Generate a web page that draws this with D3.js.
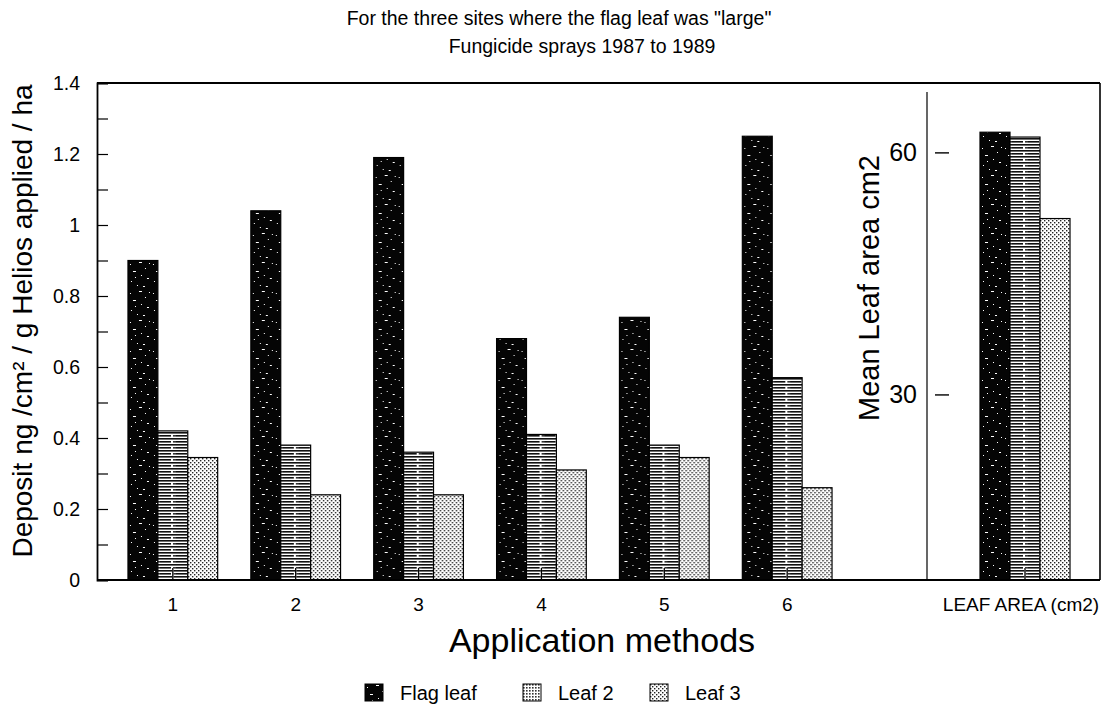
<!DOCTYPE html>
<html>
<head>
<meta charset="utf-8">
<script src="https://cdn.jsdelivr.net/npm/d3@7"></script>
<style>
  html, body { margin: 0; padding: 0; background: #fff; }
  svg { display: block; }
  text { font-family: "Liberation Sans", Arial, Helvetica, sans-serif; fill: #000; }
</style>
</head>
<body>
<svg id="chart" width="1108" height="710"></svg>
<script>
// Deposit per application method (ng/cm² per g Helios applied per ha)
const methods = ["1", "2", "3", "4", "5", "6"];
const seriesNames = ["Flag leaf", "Leaf 2", "Leaf 3"];
const flagLeaf = [0.90, 1.04, 1.19, 0.68, 0.74, 1.25];
const leaf2    = [0.42, 0.38, 0.36, 0.41, 0.38, 0.57];
const leaf3    = [0.345, 0.24, 0.24, 0.31, 0.345, 0.26];

// Mean leaf area (cm2) of each leaf
const leafAreaLabel = "LEAF AREA (cm2)";
const leafArea = [62.5, 61.9, 51.8];

const depositTicks = [0, 0.2, 0.4, 0.6, 0.8, 1, 1.2, 1.4];
const depositMinorTicks = [0.1, 0.3, 0.5, 0.7, 0.9, 1.1, 1.3];
const areaTicks = [30, 60];

const titleLines = ["For the three sites where the flag leaf was \"large\"", "Fungicide sprays 1987 to 1989"];

const svg = d3.select("#chart");

// ---- fill patterns ----
const defs = svg.append("defs");

// Flag leaf: black with sparse white speckle
const pFlag = defs.append("pattern").attr("id", "pat-flag")
  .attr("patternUnits", "userSpaceOnUse").attr("width", 23).attr("height", 29);
pFlag.append("rect").attr("width", 23).attr("height", 29).attr("fill", "#050505");
[[2,3,1,1],[11,1,3,1],[17,7,1,1],[5,10,3,1],[13,14,1,1],[19,17,2,1],[3,20,1,1],[9,24,1,1],[15,25,2,1],[7,16,1,1],[21,2,1,1]]
  .forEach(([x, y, w, h]) => pFlag.append("rect").attr("x", x).attr("y", y).attr("width", w).attr("height", h).attr("fill", "#fff"));

// Leaf 2: dense horizontal striping
const pL2 = defs.append("pattern").attr("id", "pat-leaf2")
  .attr("patternUnits", "userSpaceOnUse").attr("width", 16).attr("height", 6);
pL2.append("rect").attr("width", 16).attr("height", 6).attr("fill", "#fff");
pL2.append("rect").attr("x", 0).attr("y", 0).attr("width", 16).attr("height", 1.6).attr("fill", "#111");
pL2.append("rect").attr("x", 0).attr("y", 3).attr("width", 11).attr("height", 1.6).attr("fill", "#111");
pL2.append("rect").attr("x", 13).attr("y", 3).attr("width", 3).attr("height", 1.6).attr("fill", "#333");

// Leaf 3: fine dot screen
const pL3 = defs.append("pattern").attr("id", "pat-leaf3")
  .attr("patternUnits", "userSpaceOnUse").attr("width", 4).attr("height", 4);
pL3.append("rect").attr("width", 4).attr("height", 4).attr("fill", "#fff");
pL3.append("rect").attr("x", 0).attr("y", 0).attr("width", 1.4).attr("height", 1.4).attr("fill", "#222");
pL3.append("rect").attr("x", 2).attr("y", 2).attr("width", 1.4).attr("height", 1.4).attr("fill", "#222");

// Legend swatch for leaf 2: grey dot screen
const pL2s = defs.append("pattern").attr("id", "pat-leaf2-swatch")
  .attr("patternUnits", "userSpaceOnUse").attr("width", 3).attr("height", 3);
pL2s.append("rect").attr("width", 3).attr("height", 3).attr("fill", "#fff");
pL2s.append("rect").attr("width", 1.6).attr("height", 1.6).attr("fill", "#333");

const fills = ["url(#pat-flag)", "url(#pat-leaf2)", "url(#pat-leaf3)"];
const swatchFills = ["url(#pat-flag)", "url(#pat-leaf2-swatch)", "url(#pat-leaf3)"];

// ---- layout ----
const plotLeft = 97, plotTop = 83, plotBottom = 580, divider = 927, plotRight = 1100;

const x0 = d3.scaleBand().domain(methods).range([112, 848]).paddingInner(0.27).paddingOuter(0.13);
const x1 = d3.scaleBand().domain(seriesNames).range([0, x0.bandwidth()]);
const y = d3.scaleLinear().domain([0, 1.4]).range([plotBottom, plotTop]);

const xArea = d3.scaleBand().domain([leafAreaLabel]).range([980, 1070]);
const x1Area = d3.scaleBand().domain(seriesNames).range([0, xArea.bandwidth()]);
const yArea = d3.scaleLinear().domain([7, 68.6]).range([plotBottom, plotTop]);

// ---- titles ----
const titleCx = [559, 582];
svg.append("g").selectAll("text").data(titleLines).join("text")
  .attr("x", (d, i) => titleCx[i]).attr("y", (d, i) => 25 + i * 28)
  .attr("text-anchor", "middle").attr("font-size", 19.5).text(d => d);

// ---- bars: deposit ----
const seriesVals = [flagLeaf, leaf2, leaf3];
const rows = methods.map((m, i) => ({ m, vals: seriesNames.map((s, k) => ({ s, k, v: seriesVals[k][i] })) }));

svg.append("g").selectAll("g").data(rows).join("g")
  .attr("transform", d => `translate(${x0(d.m)},0)`)
  .selectAll("rect").data(d => d.vals).join("rect")
  .attr("x", d => x1(d.s)).attr("width", x1.bandwidth())
  .attr("y", d => y(d.v)).attr("height", d => plotBottom - y(d.v))
  .attr("fill", d => fills[d.k]).attr("stroke", "#000").attr("stroke-width", 1.2);

// ---- bars: leaf area ----
svg.append("g").attr("transform", `translate(${xArea(leafAreaLabel)},0)`)
  .selectAll("rect").data(seriesNames.map((s, k) => ({ s, k, v: leafArea[k] }))).join("rect")
  .attr("x", d => x1Area(d.s)).attr("width", x1Area.bandwidth())
  .attr("y", d => yArea(d.v)).attr("height", d => plotBottom - yArea(d.v))
  .attr("fill", d => fills[d.k]).attr("stroke", "#000").attr("stroke-width", 1.2);

// ---- frame ----
const frame = svg.append("g").attr("stroke", "#000").attr("fill", "none");
frame.append("line").attr("x1", plotLeft).attr("x2", plotRight).attr("y1", plotTop).attr("y2", plotTop).attr("stroke-width", 1.8);
frame.append("line").attr("x1", plotRight).attr("x2", plotRight).attr("y1", plotTop).attr("y2", plotBottom).attr("stroke-width", 1.6);
frame.append("line").attr("x1", divider).attr("x2", divider).attr("y1", 92).attr("y2", plotBottom).attr("stroke-width", 1.2);

// ---- left axis (inward ticks) ----
const yAxis = d3.axisRight(y).tickValues(depositTicks).tickSize(11).tickFormat("");
const gy = svg.append("g").attr("transform", `translate(${plotLeft},0)`).call(yAxis);
gy.select(".domain").attr("stroke-width", 1.8);
gy.selectAll(".tick line").attr("stroke-width", 1.2);
svg.append("g").attr("transform", `translate(${plotLeft},0)`)
  .call(d3.axisRight(y).tickValues(depositMinorTicks).tickSize(11).tickFormat(""))
  .call(g => g.select(".domain").remove())
  .selectAll(".tick line").attr("stroke-width", 1.2);

svg.append("g").selectAll("text").data(depositTicks).join("text")
  .attr("x", 80).attr("y", d => y(d)).attr("dy", "0.36em")
  .attr("text-anchor", "end").attr("font-size", 19.5).text(d => d3.format("~g")(d));

// ---- right-panel axis ----
const gA = svg.append("g").attr("transform", `translate(${divider + 8},0)`)
  .call(d3.axisRight(yArea).tickValues(areaTicks).tickSize(14).tickFormat(""));
gA.select(".domain").remove();
gA.selectAll(".tick line").attr("stroke-width", 1.4);
svg.append("g").selectAll("text").data(areaTicks).join("text")
  .attr("x", 917).attr("y", d => yArea(d)).attr("dy", "0.36em")
  .attr("text-anchor", "end").attr("font-size", 25).text(d => d);

// ---- bottom axis ----
const xAxis = d3.axisTop(x0).tickSize(12).tickFormat("");
const gx = svg.append("g").attr("transform", `translate(0,${plotBottom})`).call(xAxis);
gx.select(".domain").remove();
gx.selectAll(".tick line").clone(true).lower().attr("stroke", "#fff").attr("stroke-width", 4);
gx.selectAll(".tick line").attr("stroke-width", 1.3);

const gxa = svg.append("g").attr("transform", `translate(0,${plotBottom})`).call(d3.axisTop(xArea).tickSize(12).tickFormat(""));
gxa.select(".domain").remove();
gxa.selectAll(".tick line").clone(true).lower().attr("stroke", "#fff").attr("stroke-width", 4);
gxa.selectAll(".tick line").attr("stroke-width", 1.3);

svg.append("line").attr("x1", plotLeft).attr("x2", plotRight).attr("y1", plotBottom).attr("y2", plotBottom)
  .attr("stroke", "#000").attr("stroke-width", 2.2);

svg.append("g").selectAll("text").data(methods).join("text")
  .attr("x", d => x0(d) + x0.bandwidth() / 2).attr("y", 611)
  .attr("text-anchor", "middle").attr("font-size", 19).text(d => d);
svg.append("text").attr("x", 1021).attr("y", 611)
  .attr("text-anchor", "middle").attr("font-size", 19).text(leafAreaLabel);

// ---- axis titles ----
svg.append("text").attr("x", 602).attr("y", 652).attr("text-anchor", "middle")
  .attr("font-size", 34).text("Application methods");

svg.append("text").attr("transform", "translate(32,321) rotate(-90)").attr("text-anchor", "middle")
  .attr("font-size", 28).text("Deposit ng /cm² / g Helios applied / ha");

svg.append("text").attr("transform", "translate(879,288) rotate(-90)").attr("text-anchor", "middle")
  .attr("font-size", 29).text("Mean Leaf area cm2");

// ---- legend ----
const legendX = [365, 523, 650];
const lg = svg.append("g").selectAll("g").data(seriesNames).join("g")
  .attr("transform", (d, i) => `translate(${legendX[i]},684)`);
lg.append("rect").attr("width", 18).attr("height", 17)
  .attr("fill", (d, i) => swatchFills[i]).attr("stroke", "#000").attr("stroke-width", 1);
lg.append("text").attr("x", 35).attr("y", 16).attr("font-size", 20).text(d => d);
</script>
</body>
</html>
